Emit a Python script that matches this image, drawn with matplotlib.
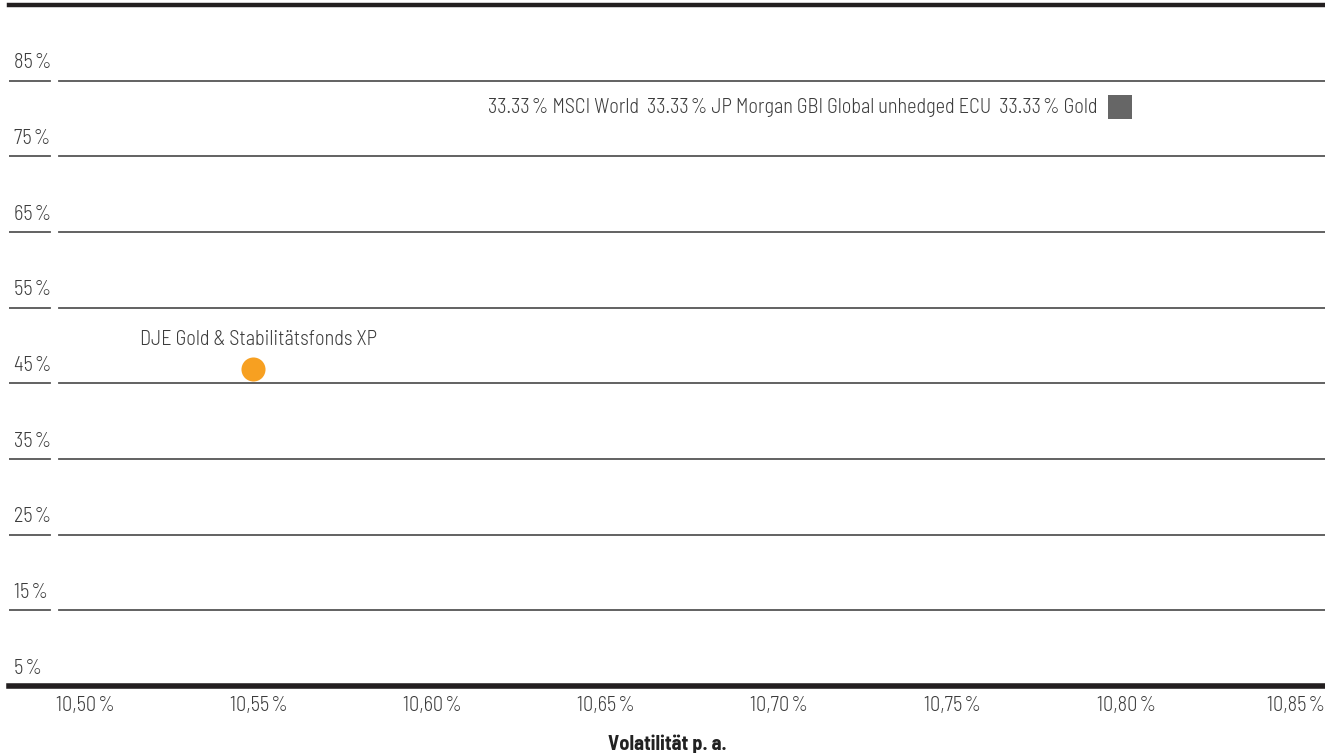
import matplotlib
matplotlib.use("Agg")
import matplotlib.pyplot as plt
from matplotlib import font_manager
from matplotlib.transforms import offset_copy

names = {f.name for f in font_manager.fontManager.ttflist}
prefs = ["Barlow Semi Condensed", "Roboto Condensed", "Archivo Narrow", "Liberation Sans Narrow", "Roboto"]
base = next(n for n in prefs if n in names)
plt.rcParams["font.family"] = [base, "DejaVu Sans"]

# data
y_ticks = [5, 15, 25, 35, 45, 55, 65, 75, 85]
x_ticks = [10.50, 10.55, 10.60, 10.65, 10.70, 10.75, 10.80, 10.85]
fund_name = "DJE Gold & Stabilitätsfonds XP"
fund_vol = [10.5485]
fund_ret = [46.9]
bench_name = "33.33\u200a% MSCI World  33.33\u200a% JP Morgan GBI Global unhedged ECU  33.33\u200a% Gold"
bench_vol = [10.798]
bench_ret = [81.5]

W, H = 1325, 753
fig = plt.figure(figsize=(W / 100, H / 100), dpi=100)
ax = fig.add_axes([9 / W, 1 - 686 / H, 1316 / W, 681 / H])

x0 = 10.50 - 76 / 173.6 * 0.05
x1 = 10.50 + 1240 / 173.6 * 0.05
ax.set_xlim(x0, x1)
ax.set_ylim(5, 95)

txt = "#3c3c3c"
line = "#555555"
fs = 14.6
wt = 300
seg_end = (50 - 9) / 1316
grid_start = (59 - 9) / 1316
for v in y_ticks:
    if v != 5:
        ax.axhline(v, xmin=0, xmax=seg_end, color=line, lw=1.3)
        ax.axhline(v, xmin=grid_start, xmax=1, color=line, lw=1.3)
    ax.annotate(f"{v}\u200a%", xy=(5 / 1316, v), xycoords=("axes fraction", "data"),
                xytext=(0, 6), textcoords="offset points", ha="left", va="bottom",
                fontsize=fs, fontweight=wt, color=txt)

for s in ["left", "right"]:
    ax.spines[s].set_visible(False)
ax.spines["top"].set_linewidth(3.2)
ax.spines["bottom"].set_linewidth(4)
ax.spines["top"].set_color("#231f20")
ax.spines["bottom"].set_color("#231f20")

ax.set_yticks([])
ax.set_xticks(x_ticks)
labels = ax.set_xticklabels([f"{v:.2f}".replace(".", ",") + "\u200a%" for v in x_ticks],
                            fontsize=fs, fontweight=wt, color=txt)
ax.tick_params(axis="x", length=0, pad=7)
# keep the last label inside the figure
labels[-1].set_transform(offset_copy(labels[-1].get_transform(), fig=fig, x=-4, y=0, units="dots"))
ax.set_xlabel("Volatilität p. a.", fontsize=fs, fontweight="bold", color="#222222", labelpad=14)

ax.scatter(fund_vol, fund_ret, s=300, color="#f7a021", zorder=5, linewidths=0)
ax.annotate(fund_name, xy=(fund_vol[0], fund_ret[0]), xytext=(-82, 21), textcoords="offset points",
            ha="left", va="center", fontsize=fs, fontweight=wt, color=txt)

ax.scatter(bench_vol, bench_ret, s=280, marker="s", color="#666666", zorder=5, linewidths=0)
ax.annotate(bench_name, xy=(bench_vol[0], bench_ret[0]), xytext=(-16, 0), textcoords="offset points",
            ha="right", va="center", fontsize=fs, fontweight=wt, color=txt)

fig.savefig("out.png", dpi=100)
